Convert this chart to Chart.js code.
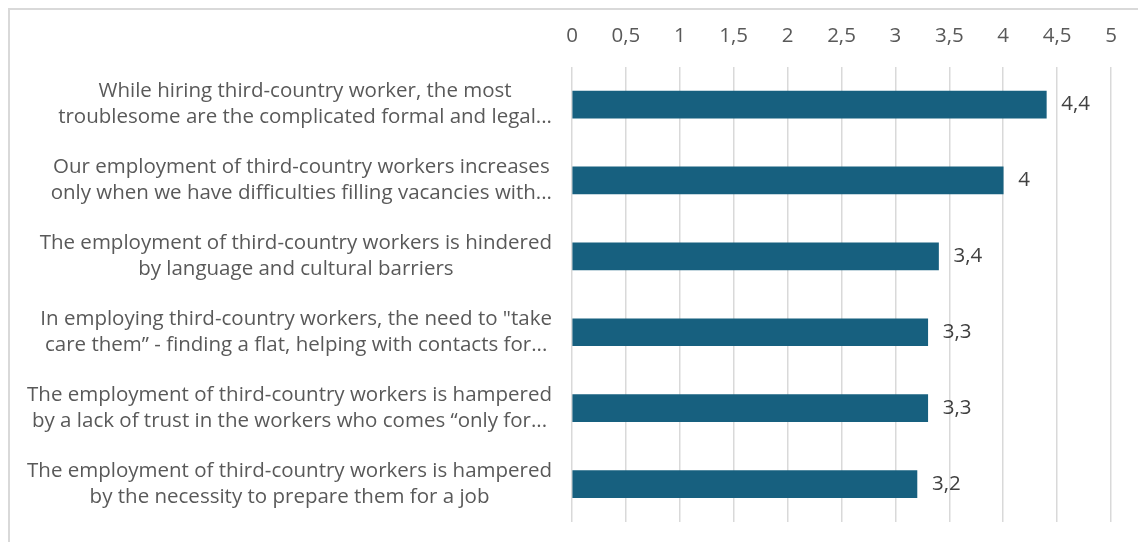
<!DOCTYPE html>
<html>
<head>
<meta charset="utf-8">
<script src="https://cdn.jsdelivr.net/npm/chart.js@4/dist/chart.umd.min.js"></script>
<style>
  html, body { margin: 0; padding: 0; background: #ffffff; }
  #wrap { position: relative; width: 1138px; height: 542px; overflow: hidden; }
  #frame { position: absolute; left: 8px; top: 8px; width: 1200px; height: 600px;
           border-left: 2px solid #d9d9d9; border-top: 2px solid #d9d9d9; box-sizing: border-box; }
  canvas { position: absolute; left: 0; top: 0; }
</style>
</head>
<body>
<div id="wrap">
  <div id="frame"></div>
  <canvas id="c" width="1138" height="542"></canvas>
</div>
<script>
// Survey statements (wrapped as shown on the axis)
const statements = [
  ["While hiring third-country worker, the most", "troublesome are the complicated formal and legal..."],
  ["Our employment of third-country workers increases", "only when we have difficulties filling vacancies with..."],
  ["The employment of third-country workers is hindered", "by language and cultural barriers"],
  ["In employing third-country workers, the need to \"take", "care them\u201d - finding a flat, helping with contacts for..."],
  ["The employment of third-country workers is hampered", "by a lack of trust in the workers who comes \u201conly for..."],
  ["The employment of third-country workers is hampered", "by the necessity to prepare them for a job"]
];
// Mean agreement score per statement
const scores = [4.4, 4.0, 3.4, 3.3, 3.3, 3.2];
// Value axis range
const axisMin = 0;
const axisMax = 5;
const axisStep = 0.5;

const FONT = "'Open Sans', 'Noto Sans', sans-serif";
const TEXT = '#595959';
const SIZE = 20.5;
const fmt = v => String(Math.round(v * 10) / 10).replace('.', ',');

// Category labels: lines centred within a block that is right-aligned to the axis
const statementLabels = {
  id: 'statementLabels',
  afterDraw(chart) {
    const ctx = chart.ctx;
    const y = chart.scales.y;
    const right = chart.chartArea.left - 20;
    const lineH = 26;
    ctx.save();
    ctx.font = SIZE + 'px ' + FONT;
    ctx.fillStyle = TEXT;
    ctx.textAlign = 'center';
    ctx.textBaseline = 'middle';
    statements.forEach((lines, i) => {
      const cy = y.getPixelForValue(i);
      const w = Math.max(...lines.map(l => ctx.measureText(l).width));
      const cx = right - w / 2;
      const top = cy - (lines.length - 1) * lineH / 2;
      lines.forEach((l, k) => ctx.fillText(l, cx, top + k * lineH));
    });
    ctx.restore();
  }
};

// Value labels at the end of each bar
const valueLabels = {
  id: 'valueLabels',
  afterDatasetsDraw(chart) {
    const ctx = chart.ctx;
    const meta = chart.getDatasetMeta(0);
    ctx.save();
    ctx.font = SIZE + 'px ' + FONT;
    ctx.fillStyle = '#404040';
    ctx.textAlign = 'left';
    ctx.textBaseline = 'middle';
    meta.data.forEach((bar, i) => {
      ctx.fillText(fmt(scores[i]), bar.x + 15, bar.y);
    });
    ctx.restore();
  }
};

new Chart(document.getElementById('c'), {
  type: 'bar',
  data: {
    labels: statements,
    datasets: [{
      data: scores,
      backgroundColor: '#17607f',
      borderWidth: 0,
      barThickness: 27
    }]
  },
  options: {
    indexAxis: 'y',
    responsive: false,
    animation: false,
    events: [],
    layout: { padding: { left: 572, right: 27, top: 6, bottom: 20 } },
    plugins: { legend: { display: false }, tooltip: { enabled: false } },
    scales: {
      x: {
        position: 'top',
        min: axisMin,
        max: axisMax,
        ticks: {
          stepSize: axisStep,
          padding: 18,
          color: TEXT,
          font: { family: FONT, size: SIZE },
          callback: v => fmt(v)
        },
        grid: { color: '#d9d9d9', lineWidth: 1.5, drawTicks: false },
        border: { display: false }
      },
      y: {
        display: false,
        offset: true
      }
    }
  },
  plugins: [statementLabels, valueLabels]
});
</script>
</body>
</html>
